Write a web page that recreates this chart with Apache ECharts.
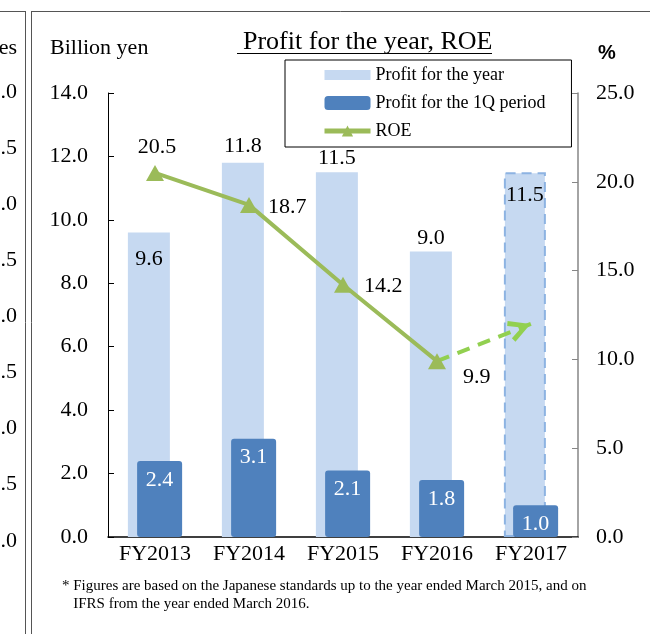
<!DOCTYPE html>
<html>
<head>
<meta charset="utf-8">
<script src="https://cdn.jsdelivr.net/npm/echarts@6/dist/echarts.min.js"></script>
<style>
  html, body { margin: 0; padding: 0; background: #fff; }
  #chart { width: 650px; height: 634px; }
</style>
</head>
<body>
<div id="chart"></div>
<script>
// data
var categories = ['FY2013', 'FY2014', 'FY2015', 'FY2016', 'FY2017'];
var profitYear = [9.6, 11.8, 11.5, 9.0, 11.5];
var profit1Q = [2.4, 3.1, 2.1, 1.8, 1.0];
var roe = [20.5, 18.7, 14.2, 9.9, null];
var roeForecast = [null, null, null, 9.9, 12.0];
// tick labels of the neighbouring (cut off) chart on the left
var sideLabels = ['.0', '.5', '.0', '.5', '.0', '.5', '.0', '.5', '.0'];

var serif = 'Liberation Serif';
var lightBlue = '#c6d9f1';
var darkBlue = '#4f81bd';
var green = '#9bbb59';

// where each value label sits (year bars / ROE points)
var yearLabelPos = ['insideTop', 'top', 'top', 'top', 'insideTop'];
var yearLabelDist = [16, 6, 3, 2, 12];
var roeLabelPos = ['top', 'right', 'right', 'right'];
var roeLabelOffset = [[2, 3], [0, 2], [2, 1], [7, 16]];

var myChart = echarts.init(document.getElementById('chart'));

var yearData = profitYear.map(function (v, i) {
  var item = {
    value: v,
    label: { position: yearLabelPos[i], distance: yearLabelDist[i] }
  };
  if (i === profitYear.length - 1) { // forecast bar, dashed outline
    item.itemStyle = { borderColor: '#8db3e2', borderWidth: 2, borderType: [10, 6] };
  }
  return item;
});

var roeData = roe.map(function (v, i) {
  if (v == null) return null;
  return { value: v, label: { position: roeLabelPos[i], offset: roeLabelOffset[i] } };
});

var forecastData = roeForecast.map(function (v, i) {
  if (v == null) return null;
  if (i === roeForecast.length - 1) {
    return {
      value: v,
      symbol: 'path://M10,-22 M0,19 L10,0 L20,19 L16,21 L10,9 L4,21 Z',
      symbolSize: [22, 46],
      symbolRotate: -69
    };
  }
  return { value: v, symbol: 'none' };
});

var sideGraphics = sideLabels.map(function (t, i) {
  return {
    type: 'text', right: 633, top: 81 + i * 56.1,
    style: { text: t, font: '22px ' + serif, fill: '#000' }
  };
});

var option = {
  animation: false,
  textStyle: { fontFamily: serif },
  title: {
    text: 'Profit for the year, ROE',
    left: 238, top: 24,
    textStyle: { fontSize: 26, fontWeight: 'normal', color: '#000', fontFamily: serif }
  },
  legend: {
    data: [
      { name: 'Profit for the year', icon: 'path://M0,0 h46 v10 h-46 z' },
      { name: 'Profit for the 1Q period', icon: 'roundRect' },
      { name: 'ROE', lineStyle: { width: 5 } }
    ],
    orient: 'vertical',
    left: 285, top: 60,
    padding: [6, 26, 7, 37],
    itemWidth: 46, itemHeight: 14, itemGap: 10,
    borderColor: '#000', borderWidth: 1,
    backgroundColor: '#fff',
    textStyle: { fontSize: 18, color: '#000', fontFamily: serif }
  },
  grid: { left: 108, right: 72, top: 93, bottom: 97 },
  xAxis: {
    type: 'category',
    data: categories,
    axisLine: { lineStyle: { color: '#000', width: 1.5 } },
    axisTick: { inside: true, length: 6, lineStyle: { color: '#000' } },
    axisLabel: { fontSize: 22, color: '#000', margin: 6, fontFamily: serif }
  },
  yAxis: [
    {
      type: 'value', min: 0, max: 14, interval: 2,
      axisLine: { show: true, lineStyle: { color: '#000' } },
      axisTick: { show: true, inside: true, length: 6, lineStyle: { color: '#000' } },
      splitLine: { show: false },
      axisLabel: {
        fontSize: 22, color: '#000', margin: 20, fontFamily: serif,
        formatter: function (v) { return v.toFixed(1); }
      }
    },
    {
      type: 'value', min: 0, max: 25, interval: 5,
      axisLine: { show: true, lineStyle: { color: '#868686', width: 1.5 } },
      axisTick: { show: true, inside: true, length: 6, lineStyle: { color: '#868686' } },
      splitLine: { show: false },
      axisLabel: {
        fontSize: 22, color: '#000', margin: 18, fontFamily: serif,
        formatter: function (v) { return v.toFixed(1); }
      }
    }
  ],
  series: [
    {
      name: 'Profit for the year',
      type: 'bar',
      barWidth: 42,
      barGap: '-78%',
      itemStyle: { color: lightBlue },
      label: {
        show: true, fontSize: 22, color: '#000', fontFamily: serif,
        formatter: function (p) { return p.value.toFixed(1); }
      },
      data: yearData,
      z: 1
    },
    {
      name: 'Profit for the 1Q period',
      type: 'bar',
      barWidth: 45,
      itemStyle: { color: darkBlue, borderRadius: 3 },
      label: {
        show: true, position: 'insideTop', distance: 8,
        fontSize: 22, color: '#fff', fontFamily: serif,
        formatter: function (p) { return p.value.toFixed(1); }
      },
      data: profit1Q,
      z: 2
    },
    {
      name: 'ROE',
      type: 'line',
      yAxisIndex: 1,
      symbol: 'triangle',
      symbolSize: [18, 16],
      lineStyle: { color: green, width: 4 },
      itemStyle: { color: green },
      label: {
        show: true, fontSize: 22, color: '#000', fontFamily: serif, distance: 10,
        formatter: function (p) { return p.value.toFixed(1); }
      },
      data: roeData,
      z: 4
    },
    {
      name: 'ROE forecast',
      type: 'line',
      yAxisIndex: 1,
      lineStyle: { color: '#92d050', width: 4, type: [13, 9] },
      itemStyle: { color: '#92d050' },
      data: forecastData,
      z: 3
    }
  ],
  graphic: [
    // frames of the document panels
    { type: 'line', shape: { x1: 25.5, y1: 11, x2: 25.5, y2: 634 }, style: { stroke: '#555', lineWidth: 1 } },
    { type: 'line', shape: { x1: 0, y1: 11.5, x2: 25.5, y2: 11.5 }, style: { stroke: '#555', lineWidth: 1 } },
    { type: 'line', shape: { x1: 31.5, y1: 11, x2: 31.5, y2: 634 }, style: { stroke: '#555', lineWidth: 1 } },
    { type: 'line', shape: { x1: 31.5, y1: 11.5, x2: 650, y2: 11.5 }, style: { stroke: '#555', lineWidth: 1 } },
    // title underline
    { type: 'line', shape: { x1: 237, y1: 53.5, x2: 492, y2: 53.5 }, style: { stroke: '#000', lineWidth: 1.2 } },
    { type: 'text', left: 50, top: 37, style: { text: 'Billion yen', font: '22px ' + serif, fill: '#000' } },
    { type: 'text', left: 598, top: 43, style: { text: '%', font: 'bold 20px Liberation Sans', fill: '#000' } },
    { type: 'text', right: 633, top: 37, style: { text: 'es', font: '22px ' + serif, fill: '#000' } },
    {
      type: 'text', left: 62, top: 577,
      style: {
        text: '* Figures are based on the Japanese standards up to the year ended March 2015, and on\n   IFRS from the year ended March 2016.',
        font: '15px ' + serif, fill: '#000', lineHeight: 18
      }
    }
  ].concat(sideGraphics)
};

myChart.setOption(option);
</script>
</body>
</html>
